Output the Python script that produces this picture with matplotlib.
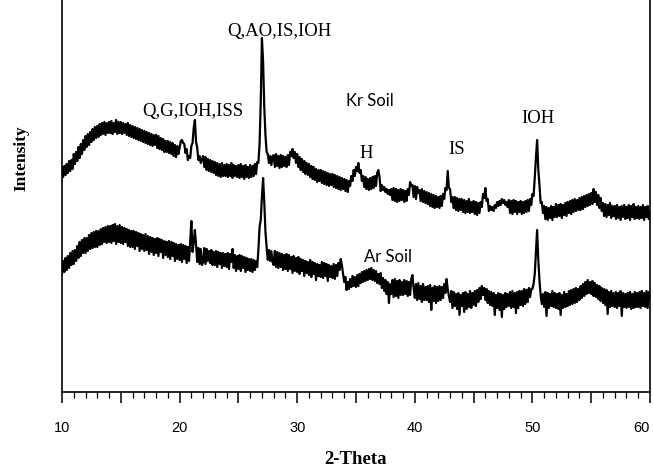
import numpy as np
import matplotlib
matplotlib.use("Agg")
import matplotlib.pyplot as plt
from matplotlib.ticker import MultipleLocator

# XRD scans, 2-theta from 10 to 60 deg in 0.1 deg steps (intensity in a.u.)
kr_soil = [
    225, 215, 226, 217, 228, 219, 231, 221, 232, 223,   # 10
    238, 228, 240, 231, 245, 234, 248, 238, 252, 242,   # 11
    256, 245, 258, 247, 260, 250, 263, 252, 265, 254,   # 12
    266, 255, 268, 257, 269, 258, 270, 257, 269, 259,   # 13
    270, 259, 271, 258, 269, 260, 272, 258, 270, 259,   # 14
    270, 258, 269, 259, 268, 257, 269, 256, 267, 255,   # 15
    266, 254, 265, 253, 264, 252, 263, 251, 262, 250,   # 16
    261, 249, 260, 248, 259, 247, 258, 246, 257, 247,   # 17
    257, 244, 256, 243, 254, 242, 253, 240, 251, 240,   # 18
    251, 239, 250, 238, 249, 236, 247, 235, 246, 238,   # 19
    244, 251, 252, 249, 248, 239, 243, 232, 236, 234,   # 20
    246, 249, 264, 272, 250, 244, 232, 236, 229, 233,   # 21
    236, 225, 235, 222, 233, 221, 232, 220, 231, 219,   # 22
    230, 217, 229, 216, 228, 215, 229, 216, 227, 216,   # 23
    228, 215, 227, 216, 229, 214, 227, 216, 226, 215,   # 24
    227, 214, 228, 215, 226, 213, 227, 215, 225, 214,   # 25
    227, 215, 226, 216, 228, 218, 230, 229, 248, 290,   # 26
    354, 330, 285, 257, 240, 238, 229, 236, 227, 235,   # 27
    237, 225, 238, 226, 236, 224, 237, 225, 236, 226,   # 28
    235, 225, 237, 227, 240, 236, 243, 234, 240, 229,   # 29
    238, 225, 235, 222, 233, 220, 231, 218, 229, 217,   # 30
    228, 215, 226, 213, 225, 212, 223, 210, 222, 211,   # 31
    222, 209, 221, 208, 220, 207, 219, 206, 218, 207,   # 32
    218, 205, 217, 204, 216, 203, 215, 202, 214, 203,   # 33
    213, 201, 212, 200, 211, 206, 216, 211, 222, 216,   # 34
    225, 221, 229, 219, 222, 211, 216, 205, 215, 203,   # 35
    213, 202, 214, 203, 215, 204, 216, 206, 219, 222,   # 36
    215, 201, 207, 202, 205, 200, 203, 198, 202, 197,   # 37
    203, 192, 204, 191, 203, 190, 202, 191, 203, 192,   # 38
    202, 190, 201, 191, 203, 197, 210, 206, 207, 195,   # 39
    206, 193, 205, 199, 202, 191, 203, 190, 201, 189,   # 40
    200, 188, 199, 186, 198, 185, 197, 184, 196, 185,   # 41
    195, 184, 196, 186, 198, 193, 204, 202, 221, 204,   # 42
    203, 190, 195, 184, 195, 182, 194, 181, 193, 182,   # 43
    193, 180, 192, 179, 191, 180, 193, 179, 190, 180,   # 44
    191, 178, 190, 177, 189, 179, 190, 185, 198, 194,   # 45
    204, 191, 193, 181, 186, 182, 185, 181, 187, 184,   # 46
    190, 186, 191, 187, 193, 189, 192, 187, 190, 185,   # 47
    192, 179, 191, 178, 192, 180, 191, 178, 190, 180,   # 48
    191, 178, 190, 179, 191, 180, 192, 181, 193, 187,   # 49
    198, 196, 214, 234, 252, 223, 207, 189, 190, 179,   # 50
    186, 173, 185, 172, 184, 174, 186, 172, 185, 175,   # 51
    188, 175, 187, 176, 188, 174, 187, 177, 189, 176,   # 52
    190, 179, 191, 178, 192, 180, 193, 181, 192, 182,   # 53
    194, 182, 195, 183, 196, 185, 197, 186, 198, 187,   # 54
    199, 188, 203, 190, 200, 187, 197, 184, 194, 181,   # 55
    189, 176, 188, 175, 187, 177, 189, 174, 186, 176,   # 56
    186, 173, 187, 174, 185, 172, 186, 175, 187, 173,   # 57
    185, 174, 187, 172, 186, 175, 188, 173, 185, 174,   # 58
    186, 173, 185, 174, 187, 172, 185, 175, 186, 173,   # 59
    180,                                                # 60
]

ar_soil = [
    118, 131, 120, 134, 122, 136, 124, 139, 127, 141,   # 10
    128, 142, 131, 146, 134, 150, 136, 152, 139, 154,   # 11
    139, 154, 141, 157, 143, 159, 144, 160, 145, 161,   # 12
    145, 161, 147, 163, 148, 164, 150, 165, 149, 166,   # 13
    150, 166, 149, 167, 151, 168, 148, 166, 150, 167,   # 14
    149, 165, 148, 164, 150, 163, 146, 162, 145, 161,   # 15
    145, 161, 143, 160, 146, 159, 141, 158, 143, 157,   # 16
    141, 158, 142, 156, 138, 155, 140, 154, 137, 153,   # 17
    139, 154, 136, 153, 140, 152, 134, 151, 137, 150,   # 18
    135, 151, 133, 150, 136, 149, 131, 148, 133, 147,   # 19
    132, 148, 130, 147, 133, 146, 129, 145, 131, 150,   # 20
    171, 140, 150, 162, 147, 130, 144, 128, 143, 127,   # 21
    130, 144, 128, 143, 131, 141, 129, 142, 127, 140,   # 22
    127, 141, 125, 140, 128, 139, 124, 139, 126, 138,   # 23
    125, 139, 123, 138, 130, 143, 124, 137, 121, 136,   # 24
    123, 137, 121, 136, 124, 135, 120, 134, 122, 133,   # 25
    121, 133, 120, 132, 122, 131, 125, 142, 165, 172,   # 26
    195, 214, 190, 160, 145, 132, 142, 131, 141, 130,   # 27
    127, 141, 125, 140, 124, 139, 125, 138, 122, 137,   # 28
    123, 138, 121, 137, 123, 135, 119, 136, 121, 134,   # 29
    120, 135, 118, 133, 121, 132, 116, 131, 119, 130,   # 30
    117, 132, 115, 130, 118, 129, 112, 128, 116, 127,   # 31
    115, 130, 114, 129, 116, 128, 111, 127, 115, 126,   # 32
    114, 128, 113, 127, 116, 129, 122, 133, 127, 118,   # 33
    110, 115, 102, 110, 103, 113, 105, 116, 106, 115,   # 34
    105, 117, 106, 118, 109, 120, 110, 121, 111, 122,   # 35
    112, 123, 113, 124, 112, 122, 111, 121, 109, 118,   # 36
    108, 119, 104, 114, 101, 112, 98, 110, 89, 108,     # 37
    98, 112, 95, 113, 96, 111, 94, 112, 97, 110,        # 38
    97, 112, 98, 111, 96, 110, 97, 113, 117, 104,       # 39
    94, 108, 92, 109, 93, 106, 90, 108, 92, 105,        # 40
    92, 106, 90, 107, 82, 104, 91, 106, 89, 105,        # 41
    91, 106, 92, 105, 94, 108, 99, 113, 103, 96,        # 42
    90, 101, 84, 100, 86, 98, 83, 99, 77, 97,           # 43
    86, 99, 80, 100, 83, 98, 85, 101, 84, 99,           # 44
    87, 101, 86, 102, 90, 104, 93, 106, 97, 104,        # 45
    92, 103, 89, 101, 87, 100, 86, 99, 77, 97,          # 46
    84, 99, 82, 98, 75, 97, 83, 99, 85, 98,             # 47
    86, 100, 84, 101, 85, 99, 79, 100, 84, 101,         # 48
    87, 101, 86, 103, 88, 102, 90, 104, 95, 103,        # 49
    103, 108, 118, 140, 162, 132, 112, 97, 88, 98,      # 50
    85, 100, 76, 99, 84, 98, 86, 101, 85, 99,           # 51
    84, 98, 83, 99, 77, 97, 84, 100, 85, 98,            # 52
    86, 101, 87, 102, 88, 103, 89, 104, 90, 103,        # 53
    92, 106, 94, 108, 96, 110, 98, 112, 99, 110,        # 54
    98, 111, 96, 109, 95, 107, 93, 106, 91, 104,        # 55
    89, 103, 87, 102, 78, 100, 85, 101, 86, 99,         # 56
    85, 100, 84, 99, 86, 101, 76, 99, 85, 98,           # 57
    84, 99, 85, 100, 83, 98, 84, 100, 85, 99,           # 58
    85, 100, 84, 101, 86, 99, 85, 101, 84, 100,         # 59
    93,                                                 # 60
]

tick_positions = [10, 15, 20, 25, 30, 35, 40, 45, 50, 55, 60]
tick_labels = ["10", "", "20", "", "30", "", "40", "", "50", "", "60"]

theta_kr = 10.0 + 0.1 * np.arange(len(kr_soil))
theta_ar = 10.0 + 0.1 * np.arange(len(ar_soil))

serif = ["Liberation Serif", "DejaVu Serif"]
sans = ["Liberation Sans", "DejaVu Sans"]
calibri_like = ["Lato", "DejaVu Sans"]

fig = plt.figure(figsize=(6.53, 4.70), dpi=100)
ax = fig.add_axes([62 / 653, 78 / 470, 588 / 653, 392 / 470])

ax.plot(theta_kr, kr_soil, color="black", lw=1.6)
ax.plot(theta_ar, ar_soil, color="black", lw=1.6)

ax.set_xlim(10, 60)
ax.set_ylim(0, 392)

ax.spines["top"].set_visible(False)
for side in ("left", "right", "bottom"):
    ax.spines[side].set_linewidth(1.2)
ax.set_yticks([])

ax.set_xticks(tick_positions)
ax.set_xticklabels(tick_labels, family=sans, fontsize=10.5)
ax.xaxis.set_minor_locator(MultipleLocator(1))
ax.tick_params(axis="x", which="major", direction="out", length=8, width=1.1, pad=13)
ax.tick_params(axis="x", which="minor", direction="out", length=4, width=0.9)
ax.get_xticklabels()[-1].set_horizontalalignment("right")

# phase labels
ax.text(21.14, 281, "Q,G,IOH,ISS", family=serif, fontsize=13.5, ha="center", va="center")
ax.text(28.45, 361, "Q,AO,IS,IOH", family=serif, fontsize=13.5, ha="center", va="center")
ax.text(35.85, 238, "H", family=serif, fontsize=13.5, ha="center", va="center")
ax.text(43.59, 242, "IS", family=serif, fontsize=13.5, ha="center", va="center")
ax.text(50.48, 274, "IOH", family=serif, fontsize=13.5, ha="center", va="center")
ax.text(36.19, 291, "Kr Soil", family=calibri_like, fontsize=12, ha="center", va="center")
ax.text(37.72, 135, "Ar Soil", family=calibri_like, fontsize=12, ha="center", va="center")

fig.text(356 / 653, 11 / 470, "2-Theta", family=serif, fontweight="bold",
         fontsize=13.5, ha="center", va="center")
fig.text(21 / 653, 312 / 470, "Intensity", family=serif, fontweight="bold",
         fontsize=12.5, ha="center", va="center", rotation=90)

fig.savefig("out.png", dpi=100)
